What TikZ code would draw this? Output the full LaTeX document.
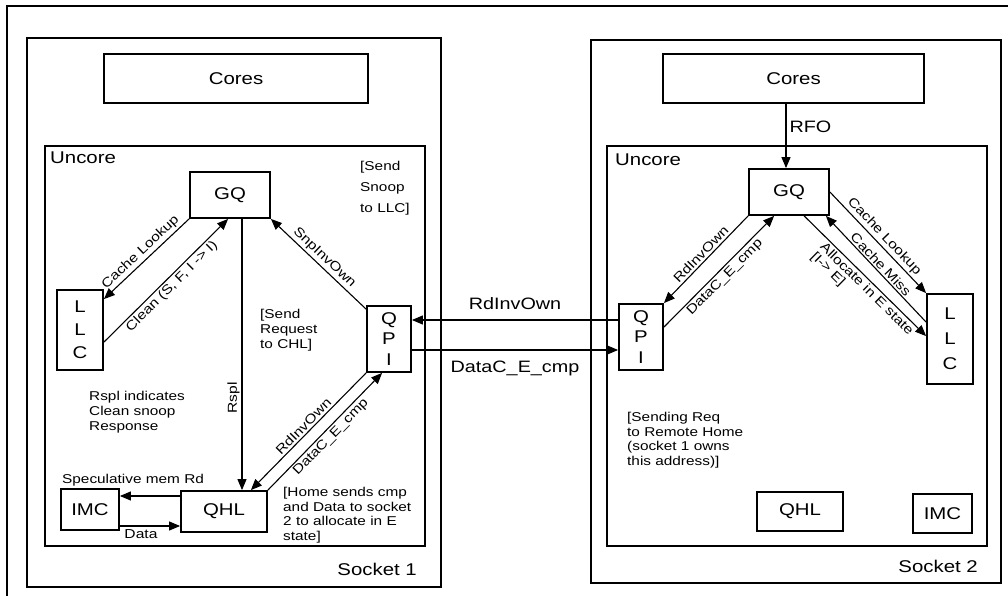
\documentclass[tikz,border=0pt]{standalone}
\usepackage{fontspec}
\setmainfont{Liberation Sans}[FakeStretch=1.2]
\usetikzlibrary{arrows.meta,calc}
\tikzset{
  nbox/.style={draw, line width=1.8pt, inner sep=0pt, font=\fontsize{17}{20}\selectfont},
  frame/.style={draw, line width=1.8pt},
  arr/.style={line width=1.1pt, -{Triangle[length=11pt,width=9pt]}},
  lbl/.style={font=\fontsize{13}{15}\selectfont, inner sep=2pt},
  note/.style={font=\fontsize{12.8}{14.8}\selectfont, align=left, inner sep=0pt},
  big/.style={font=\fontsize{17}{20}\selectfont, inner sep=0pt},
  mid/.style={font=\fontsize{16.5}{20}\selectfont, inner sep=3pt},
}
\begin{document}
\begin{tikzpicture}[x=1pt,y=-1pt]
\useasboundingbox (0,0) rectangle (1008,596);
% outer frame (clipped at right and bottom)
\draw[frame] (7,596) -- (7,6) -- (1008,6);
% socket frames
\draw[frame] (27,38) rectangle (441,587);
\draw[frame] (45,146) rectangle (425,546);
\draw[frame] (591,40) rectangle (1001,583);
\draw[frame] (607,146) rectangle (987,546);

% ---------- Socket 1 ----------
\node[nbox, minimum width=264pt, minimum height=49pt] (cores1) at (236,78.5) {Cores};
\node[nbox, minimum width=80pt, minimum height=46pt] (gq1) at (230,195) {GQ};
\node[nbox, minimum width=46pt, minimum height=80pt, align=center, font=\fontsize{17}{23}\selectfont] (llc1) at (80,330) {L\\L\\C};
\node[nbox, minimum width=44pt, minimum height=66pt, align=center, font=\fontsize{17}{20.5}\selectfont] (qpi1) at (389,339) {Q\\P\\I};
\node[nbox, minimum width=86pt, minimum height=41pt] (qhl1) at (224,511.5) {QHL};
\node[nbox, minimum width=58pt, minimum height=41pt] (imc1) at (90,509.5) {IMC};

\node[big, anchor=base west] (unc1) at (50,164) {Uncore};
\node[big, anchor=base east] (sock1) at (417,575) {Socket 1};
% anchor base = baseline of the last line
\node[note, anchor=base west, font=\fontsize{12.8}{21}\selectfont] (n1) at (360,212) {[Send\\Snoop\\to LLC]};
\node[note, anchor=base west, font=\fontsize{12.8}{15}\selectfont] (n2) at (260,348.5) {[Send\\Request\\to CHL]};
\node[note, anchor=base west, font=\fontsize{12.8}{15}\selectfont] (n3) at (89,430.5) {Rspl indicates\\Clean snoop\\Response};
\node[note, anchor=base west, font=\fontsize{12.8}{14.7}\selectfont] (n4) at (283,540.6) {[Home sends cmp\\and Data to socket\\2 to allocate in E\\state]};
\node[note, anchor=base west] (n5) at (62,483) {Speculative mem Rd};

\draw[arr] (gq1.south west) -- node[lbl, midway, sloped, above] {Cache Lookup} ($(llc1.north east)+(0,10)$);
\draw[arr] ($(llc1.north east)+(0,53)$) -- node[lbl, midway, sloped, below] {Clean (S, F, I -> I)} ($(gq1.south west)+(39,0)$);
\coordinate (rsx) at (242,0);
\draw[arr] (gq1.south -| rsx) -- node[lbl, pos=0.66, rotate=90, anchor=south] {Rspl} (qhl1.north -| rsx);
\draw[arr] ($(qpi1.north west)+(0,4)$) -- node[lbl, midway, sloped, above] {SnpInvOwn} (gq1.south east);
\draw[arr] (qpi1.south west) -- node[lbl, midway, sloped, above] {RdInvOwn} ($(qhl1.north east)+(-17,0)$);
\draw[arr] (qhl1.north east) -- node[lbl, midway, sloped, below] {DataC\_E\_cmp} ($(qpi1.south west)+(16,0)$);
\draw[arr] ($(qhl1.west)+(0,-15.5)$) -- ($(imc1.east)+(0,-13.5)$);
\draw[arr] ($(imc1.east)+(0,16.5)$) -- node[lbl, pos=0.35, below, inner sep=3pt] {Data} ($(qhl1.west)+(0,14.5)$);

% ---------- Socket 2 ----------
\node[nbox, minimum width=261pt, minimum height=49pt] (cores2) at (793.5,78.5) {Cores};
\node[nbox, minimum width=80pt, minimum height=46pt] (gq2) at (789,192) {GQ};
\node[nbox, minimum width=44pt, minimum height=66pt, align=center, font=\fontsize{17}{20.5}\selectfont] (qpi2) at (641,337) {Q\\P\\I};
\node[nbox, minimum width=46pt, minimum height=90pt, align=center, font=\fontsize{17}{25}\selectfont] (llc2) at (950,339) {L\\L\\C};
\node[nbox, minimum width=86pt, minimum height=39pt] (qhl2) at (800,511.5) {QHL};
\node[nbox, minimum width=59pt, minimum height=39pt] (imc2) at (942.5,513.5) {IMC};

\node[big, anchor=base west] (unc2) at (615,165) {Uncore};
\node[big, anchor=base east] (sock2) at (978,572) {Socket 2};
\node[note, anchor=base west, font=\fontsize{12.8}{14.7}\selectfont] (n6) at (627,465.6) {[Sending Req\\to Remote Home\\(socket 1 owns\\this address)]};

\coordinate (rfox) at (786,0);
\draw[arr] (cores2.south -| rfox) -- node[mid, pos=0.35, right] {RFO} (gq2.north -| rfox);
\draw[arr] (gq2.south west) -- node[lbl, midway, sloped, above] {RdInvOwn} (qpi2.north east);
\draw[arr] ($(qpi2.north east)+(0,24)$) -- node[lbl, midway, sloped, below] {DataC\_E\_cmp} ($(gq2.south west)+(26,0)$);
\draw[arr] (gq2.east) -- node[lbl, midway, sloped, above] {Cache Lookup} (llc2.north west);
\draw[arr] ($(llc2.north west)+(0,29)$) -- node[lbl, midway, sloped, above, inner sep=1.5pt] {Cache Miss} ($(gq2.south east)+(-4,0)$);
\draw[arr] ($(gq2.south west)+(56,0)$) -- node[lbl, pos=0.56, sloped, below, align=left, font=\fontsize{13}{13}\selectfont] {Allocate in E state\\{[}I-> E{]}} ($(llc2.north west)+(0,43)$);

% ---------- between sockets ----------
\coordinate (m1) at (0,320);
\coordinate (m2) at (0,350);
\draw[arr] (qpi2.west |- m1) -- node[mid, midway, above=7pt] {RdInvOwn} (qpi1.east |- m1);
\draw[arr] (qpi1.east |- m2) -- node[mid, midway, below=7pt] {DataC\_E\_cmp} (qpi2.west |- m2);
\end{tikzpicture}
\end{document}
